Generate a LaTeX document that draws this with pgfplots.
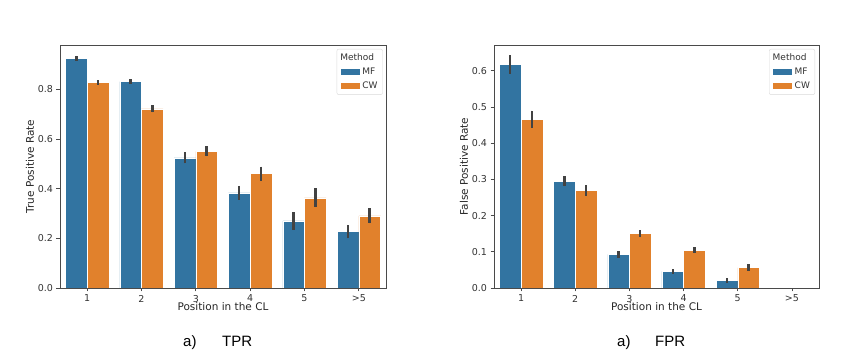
\documentclass[border=0pt]{standalone}
\usepackage{fontspec}
\setmainfont{DejaVu Sans}
\newfontfamily\capfont{Liberation Sans}
\usepackage{pgfplots}
\usepackage{pgfplotstable}
\pgfplotsset{compat=1.18}
\definecolor{sbblue}{HTML}{3274A1}
\definecolor{sborange}{HTML}{E1812C}
\definecolor{errgray}{HTML}{424242}
\definecolor{spine}{HTML}{4A4A4A}

\pgfplotstableread{
x y e
0 0.924 0.010
1 0.831 0.010
2 0.524 0.022
3 0.383 0.028
4 0.270 0.035
5 0.227 0.027
}\tprmf
\pgfplotstableread{
x y e
0 0.827 0.010
1 0.721 0.014
2 0.550 0.020
3 0.460 0.028
4 0.363 0.038
5 0.290 0.030
}\tprcw
\pgfplotstableread{
x y e
0 0.617 0.025
1 0.295 0.014
2 0.093 0.009
3 0.046 0.006
4 0.021 0.006
}\fprmf
\pgfplotstableread{
x y e
0 0.466 0.024
1 0.269 0.015
2 0.150 0.010
3 0.104 0.008
4 0.056 0.009
}\fprcw

\pgfplotsset{
  sbstyle/.style={
    scale only axis,
    height=243pt,
    xmin=-0.5, xmax=5.5,
    ymin=0,
    xtick={0,1,2,3,4,5},
    xticklabels={1,2,3,4,5,{>5}},
    tick align=outside,
    tick pos=left,
    major tick length=3.5pt,
    every tick/.style={spine, line width=0.7pt},
    axis line style={spine, line width=0.8pt},
    /pgf/number format/assume math mode=true,
    yticklabel style={/pgf/number format/fixed, /pgf/number format/precision=1, /pgf/number format/fixed zerofill},
    tick label style={font=\fontsize{9.5}{11}\selectfont, text=black!80},
    label style={font=\fontsize{10.5}{12}\selectfont, text=black!85},
    xlabel={Position in the CL},
    xlabel style={at={([yshift=-19pt]axis description cs:0.5,0)}, anchor=center},
    ylabel style={at={([xshift=-30pt]axis description cs:0,0.5)}, anchor=center, rotate=0},
    legend cell align=left,
    legend image code/.code={\fill[##1, sharp corners] (0pt,-3pt) rectangle (20pt,3.5pt);},
    legend style={font=\fontsize{9}{10}\selectfont, text=black!80, draw=black!15, rounded corners=2pt, fill=white, anchor=north east, row sep=2pt, inner xsep=3pt, inner ysep=2.5pt},
    error bars/y dir=both,
    error bars/y explicit,
    error bars/error mark=none,
    error bars/error bar style={line width=2.4pt, color=errgray},
  },
  mfbar/.style={ybar, bar width=0.4, bar shift=0, fill=sbblue, draw=white, line width=0.5pt},
  cwbar/.style={ybar, bar width=0.4, bar shift=0, fill=sborange, draw=white, line width=0.5pt},
}

\begin{document}
\begin{tikzpicture}
\path[use as bounding box] (0,0) rectangle (867pt,361pt);

\begin{axis}[sbstyle, at={(60pt,73pt)}, anchor=south west, width=326pt,
  ymax=0.978, ytick={0,0.2,0.4,0.6,0.8},
  ylabel={True Positive Rate},
  legend style={at={(0.99,0.984)}}]
\addlegendimage{empty legend}
\addlegendentry{\hspace*{-22pt}Method}
\addplot[mfbar] table[x expr=\thisrow{x}-0.2, y=y, y error=e] {\tprmf};
\addlegendentry{MF}
\addplot[cwbar] table[x expr=\thisrow{x}+0.2, y=y, y error=e] {\tprcw};
\addlegendentry{CW}
\end{axis}

\begin{axis}[sbstyle, at={(494pt,73pt)}, anchor=south west, width=325pt,
  ymax=0.671, ytick={0,0.1,0.2,0.3,0.4,0.5,0.6},
  ylabel={False Positive Rate},
  legend style={at={(0.988,0.984)}}]
\addlegendimage{empty legend}
\addlegendentry{\hspace*{-22pt}Method}
\addplot[mfbar] table[x expr=\thisrow{x}-0.2, y=y, y error=e] {\fprmf};
\addlegendentry{MF}
\addplot[cwbar] table[x expr=\thisrow{x}+0.2, y=y, y error=e] {\fprcw};
\addlegendentry{CW}
\end{axis}

\node[anchor=base west, inner sep=0pt, font=\capfont\fontsize{15}{18}\selectfont] at (183pt,14pt) {a)};
\node[anchor=base west, inner sep=0pt, font=\capfont\fontsize{15}{18}\selectfont] at (222pt,14pt) {TPR};
\node[anchor=base west, inner sep=0pt, font=\capfont\fontsize{15}{18}\selectfont] at (617pt,14pt) {a)};
\node[anchor=base west, inner sep=0pt, font=\capfont\fontsize{15}{18}\selectfont] at (655pt,14pt) {FPR};
\end{tikzpicture}
\end{document}
